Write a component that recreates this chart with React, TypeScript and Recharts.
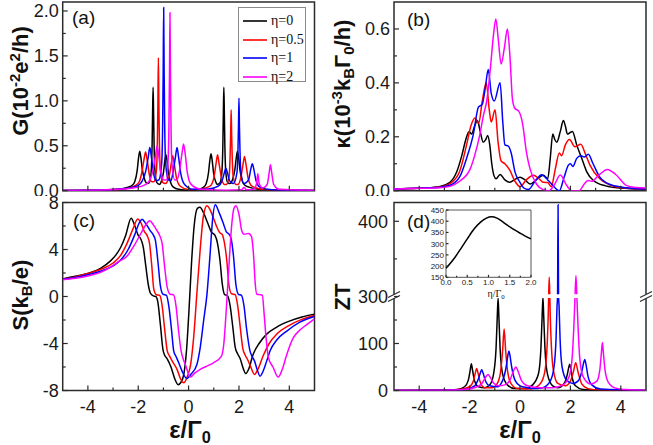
import React from 'react'
import { LineChart, Line, XAxis, YAxis, ReferenceArea, ReferenceDot, Legend } from 'recharts'

type Pt = [number, number]

const SANS = '"Liberation Sans", Arial, sans-serif'
const SERIF = '"Liberation Serif", "Times New Roman", serif'
const AX = '#2b2b2b'

const etaNames = ['η=0', 'η=0.5', 'η=1', 'η=2']
const etaColors = ['#000000', '#ff0000', '#0000ff', '#ff00ff']

// (a) conductance G, one list per eta
const gEta0: Pt[] = [
  [-5, 0.002], [-3.5, 0.005], [-2.8, 0.015], [-2.4, 0.04], [-2.24, 0.06], [-2.14, 0.1], [-2.04, 0.23], [-1.99, 0.36],
  [-1.94, 0.44], [-1.89, 0.36], [-1.84, 0.24], [-1.74, 0.12], [-1.64, 0.08], [-1.56, 0.09], [-1.49, 0.2], [-1.45, 0.5],
  [-1.43, 0.86], [-1.41, 1.15], [-1.39, 0.86], [-1.37, 0.5], [-1.33, 0.2], [-1.26, 0.09], [-1.16, 0.07], [-1.1, 0.09],
  [-1.0, 0.2], [-0.95, 0.32], [-0.9, 0.4], [-0.85, 0.32], [-0.8, 0.2], [-0.7, 0.08], [-0.6, 0.04], [-0.4, 0.015],
  [0, 0.005], [0.4, 0.015], [0.6, 0.04], [0.7, 0.08], [0.79, 0.2], [0.84, 0.33], [0.89, 0.41], [0.94, 0.33],
  [0.99, 0.2], [1.09, 0.09], [1.15, 0.07], [1.25, 0.09], [1.32, 0.2], [1.36, 0.5], [1.38, 0.86], [1.4, 1.15],
  [1.42, 0.86], [1.44, 0.5], [1.48, 0.2], [1.55, 0.09], [1.64, 0.08], [1.74, 0.12], [1.84, 0.24], [1.89, 0.36],
  [1.94, 0.44], [1.99, 0.36], [2.04, 0.23], [2.14, 0.1], [2.24, 0.06], [2.4, 0.04], [2.8, 0.015], [3.5, 0.005], [5, 0.002],
]
const gEta05: Pt[] = [
  [-5, 0.002], [-3.5, 0.006], [-2.6, 0.02], [-2.1, 0.06], [-1.96, 0.1], [-1.86, 0.2], [-1.77, 0.35], [-1.71, 0.43],
  [-1.65, 0.35], [-1.56, 0.18], [-1.46, 0.1], [-1.38, 0.1], [-1.28, 0.22], [-1.24, 0.55], [-1.22, 0.95], [-1.2, 1.48],
  [-1.18, 0.95], [-1.16, 0.55], [-1.12, 0.22], [-1.02, 0.09], [-0.93, 0.08], [-0.78, 0.15], [-0.69, 0.3], [-0.63, 0.39],
  [-0.57, 0.3], [-0.48, 0.14], [-0.33, 0.05], [0, 0.012], [0.5, 0.02], [0.85, 0.05], [1.0, 0.14], [1.09, 0.3],
  [1.15, 0.4], [1.21, 0.3], [1.3, 0.15], [1.42, 0.07], [1.5, 0.07], [1.61, 0.16], [1.65, 0.4], [1.67, 0.62],
  [1.69, 0.9], [1.71, 0.62], [1.73, 0.4], [1.77, 0.16], [1.88, 0.07], [1.96, 0.07], [2.07, 0.14], [2.16, 0.29],
  [2.22, 0.38], [2.28, 0.29], [2.37, 0.13], [2.52, 0.05], [3, 0.012], [4, 0.004], [5, 0.002],
]
const gEta1: Pt[] = [
  [-5, 0.002], [-3.5, 0.007], [-2.5, 0.025], [-2.0, 0.06], [-1.84, 0.11], [-1.7, 0.22], [-1.6, 0.38], [-1.54, 0.48],
  [-1.48, 0.38], [-1.39, 0.19], [-1.28, 0.11], [-1.18, 0.12], [-1.07, 0.3], [-1.03, 0.75], [-1.01, 1.3], [-0.99, 2.04],
  [-0.97, 1.3], [-0.95, 0.75], [-0.91, 0.3], [-0.8, 0.12], [-0.7, 0.11], [-0.61, 0.22], [-0.52, 0.38], [-0.46, 0.48],
  [-0.4, 0.38], [-0.31, 0.19], [-0.16, 0.07], [0.2, 0.015], [0.8, 0.02], [1.18, 0.05], [1.33, 0.11], [1.42, 0.2],
  [1.48, 0.25], [1.54, 0.2], [1.63, 0.11], [1.78, 0.08], [1.92, 0.2], [1.96, 0.45], [1.98, 0.7], [2.0, 1.03],
  [2.02, 0.7], [2.04, 0.45], [2.08, 0.2], [2.2, 0.08], [2.38, 0.12], [2.47, 0.24], [2.53, 0.3], [2.59, 0.24],
  [2.68, 0.11], [2.83, 0.04], [3.3, 0.01], [4, 0.004], [5, 0.002],
]
const gEta2: Pt[] = [
  [-5, 0.002], [-3.5, 0.008], [-2.2, 0.03], [-1.7, 0.07], [-1.56, 0.11], [-1.42, 0.22], [-1.31, 0.4], [-1.25, 0.5],
  [-1.19, 0.4], [-1.1, 0.2], [-0.98, 0.12], [-0.88, 0.12], [-0.82, 0.3], [-0.78, 0.75], [-0.76, 1.28], [-0.74, 1.98],
  [-0.72, 1.28], [-0.7, 0.75], [-0.66, 0.3], [-0.55, 0.12], [-0.46, 0.12], [-0.35, 0.24], [-0.26, 0.42], [-0.2, 0.52],
  [-0.14, 0.42], [-0.05, 0.2], [0.1, 0.07], [0.5, 0.015], [1.5, 0.005], [2.1, 0.01], [2.2, 0.035], [2.3, 0.01],
  [2.6, 0.02], [2.7, 0.08], [2.75, 0.19], [2.8, 0.08], [2.95, 0.03], [3.12, 0.07], [3.2, 0.2], [3.25, 0.29],
  [3.3, 0.2], [3.38, 0.07], [3.6, 0.015], [5, 0.002],
]

// (b) thermal conductance kappa
const kEta0: Pt[] = [
  [-5, 0.006], [-4.4, 0.008], [-3.85, 0.01], [-3.17, 0.016], [-2.78, 0.031], [-2.51, 0.07], [-2.31, 0.13], [-2.15, 0.19],
  [-2.02, 0.22], [-1.92, 0.21], [-1.8, 0.24], [-1.69, 0.26], [-1.58, 0.22], [-1.46, 0.18], [-1.36, 0.19], [-1.28, 0.205],
  [-1.2, 0.17], [-1.12, 0.1], [-1.03, 0.055], [-0.95, 0.044], [-0.79, 0.06], [-0.6, 0.04], [-0.4, 0.031], [-0.2, 0.042],
  [0, 0.05], [0.2, 0.04], [0.4, 0.025], [0.7, 0.045], [0.93, 0.057], [1.1, 0.044], [1.2, 0.12], [1.3, 0.21],
  [1.38, 0.19], [1.46, 0.18], [1.6, 0.22], [1.72, 0.26], [1.8, 0.24], [1.88, 0.21], [1.98, 0.215], [2.08, 0.22],
  [2.25, 0.17], [2.45, 0.12], [2.65, 0.07], [2.91, 0.038], [3.4, 0.018], [3.97, 0.01], [5, 0.006],
]
const kEta05: Pt[] = [
  [-5, 0.006], [-3.85, 0.01], [-3.17, 0.014], [-2.78, 0.026], [-2.4, 0.07], [-2.12, 0.17], [-1.95, 0.24], [-1.79, 0.27],
  [-1.64, 0.25], [-1.5, 0.33], [-1.34, 0.4], [-1.22, 0.3], [-1.14, 0.255], [-0.99, 0.3], [-0.87, 0.18], [-0.75, 0.11],
  [-0.6, 0.1], [-0.4, 0.075], [-0.2, 0.035], [0, 0.015], [0.25, 0.04], [0.53, 0.057], [0.75, 0.045], [0.93, 0.031],
  [1.1, 0.03], [1.24, 0.015], [1.4, 0.08], [1.56, 0.14], [1.65, 0.13], [1.8, 0.17], [1.96, 0.19], [2.18, 0.163],
  [2.41, 0.172], [2.6, 0.135], [2.78, 0.094], [3.17, 0.044], [3.6, 0.02], [4.0, 0.012], [5, 0.006],
]
const kEta1: Pt[] = [
  [-5, 0.006], [-3.85, 0.01], [-3.17, 0.013], [-2.78, 0.02], [-2.4, 0.05], [-2.12, 0.12], [-1.85, 0.21], [-1.65, 0.31],
  [-1.5, 0.32], [-1.38, 0.38], [-1.26, 0.45], [-1.14, 0.36], [-1.02, 0.333], [-0.79, 0.4], [-0.68, 0.25], [-0.6, 0.17],
  [-0.46, 0.165], [-0.35, 0.14], [-0.2, 0.07], [0, 0.031], [0.15, 0.01], [0.33, 0.004], [0.6, 0.035], [0.86, 0.059],
  [1.1, 0.04], [1.3, 0.02], [1.56, 0.0], [1.75, 0.05], [1.92, 0.095], [2.0, 0.1], [2.1, 0.09], [2.25, 0.12],
  [2.42, 0.13], [2.55, 0.125], [2.71, 0.135], [2.9, 0.1], [3.17, 0.05], [3.6, 0.022], [4, 0.014], [5, 0.006],
]
const kEta2: Pt[] = [
  [-5, 0.006], [-3.85, 0.009], [-3.17, 0.011], [-2.78, 0.016], [-2.4, 0.035], [-1.98, 0.08], [-1.8, 0.13], [-1.59, 0.21],
  [-1.45, 0.28], [-1.32, 0.333], [-1.18, 0.45], [-1.05, 0.58], [-0.96, 0.637], [-0.86, 0.56], [-0.75, 0.47], [-0.62, 0.53],
  [-0.5, 0.6], [-0.4, 0.5], [-0.3, 0.34], [-0.2, 0.305], [-0.05, 0.295], [0.1, 0.25], [0.26, 0.14], [0.4, 0.08],
  [0.66, 0.024], [0.9, 0.005], [1.15, 0], [1.35, 0.02], [1.6, 0.058], [1.85, 0.02], [2.05, 0], [2.35, 0],
  [2.55, 0.025], [2.7, 0.038], [2.85, 0.035], [3.1, 0.055], [3.47, 0.079], [3.8, 0.06], [4.23, 0.019], [4.6, 0.012], [5, 0.01],
]

// (c) thermopower S
const sEta0: Pt[] = [
  [-5, 1.5], [-4.5, 1.72], [-3.89, 2.04], [-3.5, 2.4], [-3.1, 3.03], [-2.9, 3.5], [-2.7, 4.17], [-2.5, 5.2],
  [-2.28, 6.67], [-2.15, 6.1], [-2.0, 5.2], [-1.9, 4.9], [-1.8, 4.2], [-1.7, 2.6], [-1.6, 1.0], [-1.52, 0.3],
  [-1.4, 0.05], [-1.3, 0.0], [-1.22, -0.5], [-1.12, -2.4], [-1.02, -4.5], [-0.95, -5.0], [-0.85, -5.3], [-0.7, -6.0],
  [-0.55, -7.0], [-0.42, -7.5], [-0.3, -7.3], [-0.18, -6.5], [-0.08, -4.5], [0.02, -1.0], [0.12, 3.0], [0.22, 6.0],
  [0.35, 7.5], [0.45, 7.6], [0.6, 7.1], [0.75, 6.3], [0.9, 5.5], [1.05, 5.2], [1.15, 4.5], [1.25, 3.0],
  [1.33, 1.2], [1.42, 0.2], [1.55, 0.05], [1.65, -0.8], [1.75, -2.5], [1.85, -4.3], [1.95, -4.9], [2.05, -5.3],
  [2.15, -6.0], [2.27, -6.55], [2.4, -6.1], [2.55, -5.0], [2.8, -4.0], [3.1, -3.2], [3.5, -2.6], [4.0, -2.1],
  [4.5, -1.75], [5, -1.5],
]
const sEta05: Pt[] = [
  [-5, 1.48], [-4.5, 1.66], [-4, 1.95], [-3.5, 2.3], [-3, 2.85], [-2.7, 3.5], [-2.45, 4.5], [-2.2, 5.8],
  [-2.02, 6.6], [-1.9, 6.3], [-1.75, 5.5], [-1.65, 5.2], [-1.55, 4.5], [-1.47, 2.8], [-1.38, 0.6], [-1.28, 0.15],
  [-1.15, 0.1], [-1.05, -0.8], [-0.95, -2.8], [-0.85, -4.6], [-0.75, -5.1], [-0.62, -5.6], [-0.46, -6.2], [-0.32, -7.0],
  [-0.2, -7.35], [-0.05, -6.8], [0.08, -5.8], [0.2, -3.5], [0.33, 0.3], [0.46, 4.0], [0.6, 7.0], [0.73, 7.72],
  [0.85, 7.4], [1.0, 6.6], [1.13, 5.87], [1.25, 5.4], [1.33, 5.3], [1.42, 4.6], [1.52, 3.0], [1.6, 1.0],
  [1.7, 0.25], [1.85, 0.15], [1.95, -0.8], [2.05, -2.6], [2.15, -4.4], [2.25, -5.0], [2.35, -5.4], [2.45, -5.9],
  [2.62, -6.63], [2.75, -6.2], [2.97, -5.0], [3.2, -4.0], [3.5, -3.2], [4.0, -2.45], [4.5, -1.95], [5, -1.6],
]
const sEta1: Pt[] = [
  [-5, 1.46], [-4.5, 1.62], [-4, 1.85], [-3.5, 2.15], [-3, 2.6], [-2.7, 3.1], [-2.4, 4.0], [-2.15, 5.2],
  [-1.95, 6.3], [-1.85, 6.58], [-1.7, 6.2], [-1.52, 5.59], [-1.42, 5.3], [-1.32, 4.8], [-1.22, 3.0], [-1.12, 0.9],
  [-1.02, 0.2], [-0.88, 0.1], [-0.78, -0.9], [-0.68, -2.8], [-0.59, -4.65], [-0.5, -5.1], [-0.4, -5.6], [-0.25, -6.4],
  [-0.07, -6.97], [0.1, -6.6], [0.33, -5.78], [0.45, -4.5], [0.6, -2.0], [0.73, 0.2], [0.85, 3.5], [0.95, 6.5],
  [1.06, 7.8], [1.2, 7.2], [1.39, 6.15], [1.5, 5.5], [1.58, 5.36], [1.68, 5.0], [1.78, 3.5], [1.88, 1.0],
  [1.98, 0.19], [2.1, 0.1], [2.2, -0.8], [2.3, -2.7], [2.44, -4.65], [2.52, -5.1], [2.62, -5.5], [2.72, -6.2],
  [2.84, -6.78], [2.95, -6.4], [3.1, -5.5], [3.24, -4.6], [3.5, -3.7], [3.9, -2.94], [4.4, -2.2], [5, -1.7],
]
const sEta2: Pt[] = [
  [-5, 1.42], [-4.5, 1.55], [-4, 1.75], [-3.5, 2.05], [-3.1, 2.5], [-2.8, 2.95], [-2.44, 3.45], [-2.2, 4.2],
  [-1.91, 5.3], [-1.7, 6.1], [-1.54, 6.44], [-1.4, 6.1], [-1.25, 5.59], [-1.15, 5.2], [-1.05, 4.5], [-0.95, 2.5],
  [-0.85, 0.8], [-0.73, 0.19], [-0.6, 0.15], [-0.5, -0.8], [-0.4, -2.9], [-0.3, -4.6], [-0.2, -5.4], [-0.13, -5.78],
  [0.07, -6.86], [0.25, -6.5], [0.46, -6.21], [0.75, -5.9], [0.99, -5.64], [1.3, -5.1], [1.4, -4.0], [1.5, -1.0],
  [1.6, 2.5], [1.7, 5.8], [1.8, 7.5], [1.88, 7.72], [2.0, 7.0], [2.11, 5.6], [2.2, 5.3], [2.38, 5.36],
  [2.5, 5.1], [2.58, 3.5], [2.65, 1.0], [2.71, 0.19], [2.85, 0.15], [2.93, 0.1], [3.0, -1.5], [3.08, -3.6],
  [3.17, -5.2], [3.35, -6.0], [3.56, -6.86], [3.72, -6.2], [3.9, -4.93], [4.16, -3.5], [4.4, -2.9], [4.69, -2.4], [5, -1.9],
]

// (d) figure of merit ZT (true values; the axis is broken between 200 and 300)
const ztEta0: Pt[] = [
  [-5, 0], [-3, 0.5], [-2.5, 2], [-2.2, 8], [-2.05, 22], [-1.98, 42], [-1.93, 57], [-1.88, 42],
  [-1.8, 20], [-1.65, 8], [-1.4, 6], [-1.2, 12], [-1.05, 35], [-0.95, 90], [-0.9, 160], [-0.87, 197],
  [-0.84, 160], [-0.79, 90], [-0.69, 35], [-0.5, 12], [-0.2, 4], [0.2, 4], [0.5, 12], [0.73, 35],
  [0.83, 90], [0.88, 160], [0.91, 198], [0.94, 160], [0.99, 90], [1.09, 35], [1.3, 10], [1.5, 6],
  [1.75, 15], [1.88, 35], [1.93, 48], [1.97, 56], [2.01, 48], [2.08, 25], [2.2, 10], [2.5, 2], [3, 0.5], [5, 0],
]
const ztEta05: Pt[] = [
  [-5, 0], [-3, 0.5], [-2.4, 2], [-2.0, 8], [-1.85, 20], [-1.77, 38], [-1.72, 47], [-1.67, 38],
  [-1.58, 18], [-1.4, 6], [-1.1, 6], [-0.9, 15], [-0.77, 40], [-0.69, 85], [-0.63, 131], [-0.57, 85],
  [-0.49, 40], [-0.35, 14], [-0.1, 4], [0.3, 3], [0.6, 6], [0.85, 18], [1.0, 45], [1.08, 100],
  [1.12, 160], [1.135, 195], [1.16, 326], [1.185, 195], [1.2, 160], [1.24, 100], [1.32, 45], [1.5, 15],
  [1.8, 10], [2.0, 20], [2.12, 40], [2.21, 59], [2.3, 40], [2.45, 14], [2.7, 4], [3.2, 1], [5, 0],
]
const ztEta1: Pt[] = [
  [-5, 0], [-3, 0.5], [-2.2, 2], [-1.8, 10], [-1.65, 25], [-1.57, 38], [-1.52, 44], [-1.47, 38],
  [-1.38, 22], [-1.2, 10], [-0.9, 8], [-0.7, 20], [-0.55, 50], [-0.48, 75], [-0.44, 84], [-0.4, 75],
  [-0.33, 50], [-0.2, 22], [0, 10], [0.3, 6], [0.5, 4], [0.9, 6], [1.2, 20], [1.35, 50],
  [1.43, 110], [1.47, 180], [1.49, 260], [1.51, 422], [1.53, 260], [1.55, 180], [1.59, 110], [1.67, 50],
  [1.85, 22], [2.1, 15], [2.3, 20], [2.45, 40], [2.53, 60], [2.57, 66], [2.62, 55], [2.7, 30], [2.85, 12], [3.2, 3], [5, 0],
]
const ztEta2: Pt[] = [
  [-5, 0], [-3, 0.5], [-2.2, 2], [-1.7, 8], [-1.5, 16], [-1.38, 27], [-1.27, 34], [-1.17, 27],
  [-1.05, 16], [-0.85, 10], [-0.6, 12], [-0.4, 22], [-0.27, 40], [-0.17, 50], [-0.07, 40], [0.05, 22],
  [0.3, 10], [0.8, 6], [1.3, 6], [1.7, 12], [1.95, 30], [2.07, 70], [2.14, 140], [2.18, 195],
  [2.22, 328], [2.26, 195], [2.3, 140], [2.37, 70], [2.5, 30], [2.8, 14], [3.05, 20], [3.17, 45],
  [3.23, 80], [3.27, 102], [3.31, 80], [3.37, 45], [3.5, 18], [3.8, 5], [4.2, 2], [5, 0],
]

// inset: max ZT against eta
const insetEta = [0, 0.2, 0.35, 0.5, 0.66, 0.82, 0.95, 1.07, 1.2, 1.35, 1.52, 1.75, 2.0]
const insetZt = [190, 236, 278, 321, 365, 397, 414, 420, 414, 395, 372, 346, 321]

// ticks
const xTicks = [-4, -3, -2, -1, 0, 1, 2, 3, 4]
const xMajors = [-4, -2, 0, 2, 4]
const gTicks = [0, 0.25, 0.5, 0.75, 1, 1.25, 1.5, 1.75, 2]
const gMajors = [0, 0.5, 1, 1.5, 2]
const kTicks = [0, 0.1, 0.2, 0.3, 0.4, 0.5, 0.6]
const kMajors = [0, 0.2, 0.4, 0.6]
const sTicks = [-8, -6, -4, -2, 0, 2, 4, 6, 8]
const sMajors = [-8, -4, 0, 4, 8]
const ztTicks = [0, 50, 100, 150, 300, 350, 400]
const ztMajors = [0, 100, 300, 400]
const insetXTicks = [0, 0.25, 0.5, 0.75, 1, 1.25, 1.5, 1.75, 2]
const insetXMajors = [0, 0.5, 1, 1.5, 2]
const insetYTicks = [150, 200, 250, 300, 350, 400, 450]

// broken ZT axis: 0-200 linear, 300+ stretched by 1.6 above the break
const BREAK_LO = 200
const BREAK_HI = 300
const STRETCH = 1.6
const toT = (v: number) => (v <= BREAK_LO ? v : v >= BREAK_HI ? BREAK_LO + (v - BREAK_HI) * STRETCH : BREAK_LO)
const fromT = (t: number) => (t < BREAK_LO ? t : BREAK_HI + (t - BREAK_LO) / STRETCH)

const rows = (pts: Pt[], map: (v: number) => number = (v) => v) => pts.map(([x, y]) => ({ x, y: map(y) }))

function YTick(props: any) {
  const { x, y, payload, majors, fmt, fs = 18, gap = 4, len = 5 } = props
  const major = majors.includes(payload.value)
  return (
    <g>
      <line x1={x} x2={x + (major ? len : len * 0.6)} y1={y} y2={y} stroke={AX} strokeWidth={1.2} />
      {major && (
        <text x={x - gap} y={y} dy="0.36em" textAnchor="end" fontSize={fs} fontFamily={SANS} fill="#1a1a1a">
          {fmt(payload.value)}
        </text>
      )}
    </g>
  )
}

function XTick(props: any) {
  const { x, y, payload, majors, showLabel, fmt = (v: number) => String(v), fs = 18, gap = 22.5, len = 5 } = props
  const major = majors.includes(payload.value)
  return (
    <g>
      <line x1={x} x2={x} y1={y} y2={y - (major ? len : len * 0.6)} stroke={AX} strokeWidth={1.2} />
      {showLabel && major && (
        <text x={x} y={y + gap} textAnchor="middle" fontSize={fs} fontFamily={SANS} fill="#1a1a1a">
          {fmt(payload.value)}
        </text>
      )}
    </g>
  )
}

function BreakMark({ cx, cy }: any) {
  if (cx == null || cy == null) return null
  return (
    <g>
      <polygon points={`${cx - 6},${cy + 1} ${cx + 6},${cy - 5} ${cx + 6},${cy - 1} ${cx - 6},${cy + 5}`} fill="#fff" />
      <line x1={cx - 6} y1={cy + 1} x2={cx + 6} y2={cy - 5} stroke={AX} strokeWidth={1.2} />
      <line x1={cx - 6} y1={cy + 5} x2={cx + 6} y2={cy - 1} stroke={AX} strokeWidth={1.2} />
    </g>
  )
}

function EtaLegend({ payload }: any) {
  return (
    <div style={{ border: '1px solid #8a8a8a', background: '#fff', width: 68, height: 75, boxSizing: 'border-box', paddingTop: 4 }}>
      {(payload ?? []).map((p: any) => {
        const i = etaNames.indexOf(p.value)
        return (
          <div key={p.value} style={{ display: 'flex', alignItems: 'center', height: 18.5, paddingLeft: 4 }}>
            <svg width={24} height={4} style={{ marginRight: 4, display: 'block' }}>
              <line x1={0} x2={24} y1={2} y2={2} stroke={etaColors[i] ?? p.color} strokeWidth={1.6} />
            </svg>
            <span style={{ font: `14px ${SERIF}`, color: '#111', lineHeight: '14px' }}>{p.value}</span>
          </div>
        )
      })}
    </div>
  )
}

interface PanelProps {
  left: number
  top: number
  width: number
  height: number
  right: number
  padTop: number
  yWidth: number
  xHeight: number
  yDomain: [number, number]
  yTicks: number[]
  yMajors: number[]
  yFmt: (v: number) => string
  yGap?: number
  showX: boolean
  series: Pt[][]
  mapY?: (v: number) => number
  extra?: React.ReactNode[]
  legend?: boolean
}

function Panel(p: PanelProps) {
  return (
    <div style={{ position: 'absolute', left: p.left, top: p.top, width: p.width, height: p.height, background: '#fff' }}>
      <LineChart width={p.width} height={p.height} margin={{ top: p.padTop, right: p.right, bottom: 0, left: 0 }}>
        <XAxis
          type="number" dataKey="x" domain={[-5, 5]} allowDataOverflow
          ticks={xTicks} interval={0} height={p.xHeight}
          axisLine={false} tickLine={false} tickSize={0} tickMargin={0}
          tick={<XTick majors={xMajors} showLabel={p.showX} />}
        />
        <YAxis
          type="number" domain={p.yDomain} allowDataOverflow
          ticks={p.yTicks} interval={0} width={p.yWidth}
          axisLine={false} tickLine={false} tickSize={0} tickMargin={0}
          tick={<YTick majors={p.yMajors} fmt={p.yFmt} gap={p.yGap ?? 4} />}
        />
        {p.series.map((s, i) => (
          <Line
            key={etaNames[i]} name={etaNames[i]} data={rows(s, p.mapY)} dataKey="y"
            type="monotone" stroke={etaColors[i]} strokeWidth={1.5} dot={false} activeDot={false}
            isAnimationActive={false}
          />
        ))}
        {p.extra}
        <ReferenceArea
          x1={-5} x2={5} y1={p.yDomain[0]} y2={p.yDomain[1]}
          fill="none" stroke={AX} strokeWidth={1.5} ifOverflow="visible"
        />
        {p.legend && (
          <Legend
            layout="vertical" align="center" verticalAlign="middle"
            content={<EtaLegend />}
            wrapperStyle={{ left: 238, top: 7, width: 68, height: 75 }}
          />
        )}
      </LineChart>
    </div>
  )
}

function Inset() {
  const data = insetEta.map((e, i) => ({ x: e, y: insetZt[i] }))
  return (
    <div style={{ position: 'absolute', left: 418, top: 205, width: 122, height: 84 }}>
      <LineChart width={122} height={84} data={data} margin={{ top: 5, right: 9, bottom: 0, left: 0 }}>
        <XAxis
          type="number" dataKey="x" domain={[0, 2]} ticks={insetXTicks} interval={0} height={11.7}
          axisLine={false} tickLine={false} tickSize={0} tickMargin={0}
          tick={<XTick majors={insetXMajors} showLabel fmt={(v: number) => v.toFixed(1)} fs={8} gap={8} len={2.5} />}
        />
        <YAxis
          type="number" domain={[150, 450]} ticks={insetYTicks} interval={0} width={28}
          axisLine={false} tickLine={false} tickSize={0} tickMargin={0}
          tick={<YTick majors={insetYTicks} fmt={(v: number) => String(v)} fs={8} gap={2} len={2.5} />}
        />
        <ReferenceArea x1={0} x2={2} y1={150} y2={450} fill="#fff" fillOpacity={1} stroke="#555" strokeWidth={1} />
        <Line type="monotone" dataKey="y" stroke="#000" strokeWidth={1.5} dot={false} activeDot={false} isAnimationActive={false} />
      </LineChart>
    </div>
  )
}

const titleStyle: React.CSSProperties = {
  position: 'absolute', whiteSpace: 'nowrap', fontFamily: SANS, fontWeight: 'bold', color: '#111', lineHeight: 1,
}
const rotated = (x: number, y: number): React.CSSProperties => ({
  ...titleStyle, left: x, top: y, fontSize: 22, transform: 'translate(-50%, -50%) rotate(-90deg)',
})
const panelTag = (x: number, y: number): React.CSSProperties => ({
  position: 'absolute', left: x, top: y, fontFamily: SANS, fontSize: 19, color: '#111', lineHeight: 1,
})
const supS: React.CSSProperties = { fontSize: '0.68em', verticalAlign: '0.55em', lineHeight: 0 }
const subS: React.CSSProperties = { fontSize: '0.68em', verticalAlign: '-0.3em', lineHeight: 0 }

export default function App() {
  return (
    <div style={{ position: 'absolute', left: 0, top: 0, width: 653, height: 445, background: '#fff', overflow: 'hidden' }}>
      <Panel
        left={0} top={0} width={330} height={200} right={15.5} padTop={2} yWidth={62.7} xHeight={9.3}
        yDomain={[0, 2.1]} yTicks={gTicks} yMajors={gMajors} yFmt={(v) => v.toFixed(1)}
        showX={false} series={[gEta0, gEta05, gEta1, gEta2]} legend
      />
      <Panel
        left={330} top={0} width={323} height={200} right={7} padTop={2} yWidth={64} xHeight={9.3}
        yDomain={[0, 0.7]} yTicks={kTicks} yMajors={kMajors} yFmt={(v) => v.toFixed(1)}
        showX={false} series={[kEta0, kEta05, kEta1, kEta2]}
      />
      <Panel
        left={0} top={196} width={330} height={249} right={15.5} padTop={6.5} yWidth={62.7} xHeight={54.5}
        yDomain={[-8, 8]} yTicks={sTicks} yMajors={sMajors} yFmt={(v) => String(v)}
        showX series={[sEta0, sEta05, sEta1, sEta2]}
      />
      <Panel
        left={330} top={196} width={323} height={249} right={7} padTop={6.5} yWidth={64} xHeight={54.5}
        yDomain={[0, 400]} yTicks={ztTicks.map(toT)} yMajors={ztMajors.map(toT)}
        yFmt={(t) => String(Math.round(fromT(t)))} yGap={6}
        showX series={[ztEta0, ztEta05, ztEta1, ztEta2]} mapY={toT}
        extra={[
          <ReferenceArea key="gap" x1={-5} x2={5} y1={197} y2={205} fill="#fff" fillOpacity={1} stroke="none" zIndex={450} />,
          <ReferenceDot key="bl" x={-5} y={toT(BREAK_HI)} r={0} shape={<BreakMark />} ifOverflow="visible" zIndex={1000} />,
          <ReferenceDot key="br" x={5} y={toT(BREAK_HI)} r={0} shape={<BreakMark />} ifOverflow="visible" zIndex={1000} />,
        ]}
      />
      <Inset />

      <div style={panelTag(72, 8)}>(a)</div>
      <div style={panelTag(407, 10)}>(b)</div>
      <div style={panelTag(73, 211)}>(c)</div>
      <div style={panelTag(407, 212)}>(d)</div>

      <div style={rotated(21, 81)}>G(10<span style={supS}>-2</span>e<span style={supS}>2</span>/h)</div>
      <div style={rotated(343, 84)}>κ(10<span style={supS}>-3</span>k<span style={subS}>B</span>Γ<span style={subS}>0</span>/h)</div>
      <div style={rotated(21, 295)}>S(k<span style={subS}>B</span>/e)</div>
      <div style={rotated(343, 297)}>ZT</div>

      <div style={{ ...titleStyle, left: 190, top: 430, fontSize: 24, transform: 'translate(-50%, -50%)' }}>
        ε/Γ<span style={subS}>0</span>
      </div>
      <div style={{ ...titleStyle, left: 520, top: 430, fontSize: 24, transform: 'translate(-50%, -50%)' }}>
        ε/Γ<span style={subS}>0</span>
      </div>
      <div style={{ position: 'absolute', left: 496, top: 294, transform: 'translate(-50%, -50%)', fontFamily: SERIF, fontSize: 10, color: '#111', whiteSpace: 'nowrap', lineHeight: 1 }}>
        η/Γ<span style={subS}>0</span>
      </div>
    </div>
  )
}
